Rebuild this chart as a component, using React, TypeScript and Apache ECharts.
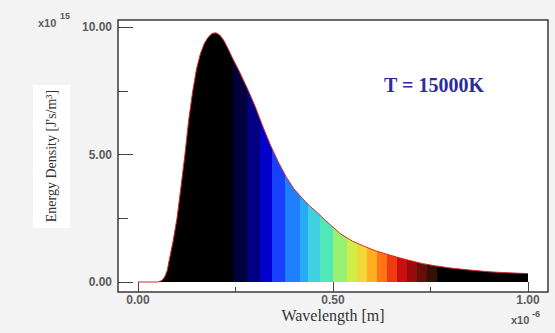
import React, { useEffect, useRef } from "react";
import * as echarts from "echarts";

// Wavelength in units of 1e-6 m, energy density in units of 1e15
const wavelengths = [
  0, 0.02, 0.04, 0.05, 0.06, 0.065, 0.07, 0.075, 0.08, 0.09, 0.1, 0.11, 0.12, 0.13, 0.14, 0.15,
  0.16, 0.17, 0.18, 0.19, 0.2, 0.21, 0.22, 0.23, 0.24, 0.26, 0.28, 0.3, 0.32, 0.34, 0.36, 0.38,
  0.4, 0.42, 0.44, 0.46, 0.48, 0.5, 0.52, 0.55, 0.58, 0.61, 0.64, 0.67, 0.7, 0.73, 0.76, 0.8,
  0.85, 0.9, 0.95, 1.0,
];
const energy = [
  0, 0, 0, 0, 0.05, 0.12, 0.25, 0.45, 0.85, 1.6, 2.5, 3.7, 4.95, 6.35, 7.45, 8.35,
  8.95, 9.35, 9.6, 9.75, 9.77, 9.68, 9.47, 9.18, 8.85, 8.25, 7.6, 6.9, 6.1, 5.35, 4.7, 4.12,
  3.65, 3.3, 2.98, 2.72, 2.42, 2.15, 1.88, 1.6, 1.4, 1.22, 1.08, 0.95, 0.83, 0.72, 0.64, 0.55,
  0.47, 0.4, 0.36, 0.33,
];

// Spectrum bands (start wavelength, 1e-6 m) and their fill colours
const bandStarts = [
  0, 0.244, 0.279, 0.313, 0.343, 0.377, 0.415, 0.435, 0.467, 0.5, 0.535, 0.562, 0.586, 0.612,
  0.638, 0.663, 0.689, 0.715, 0.74, 0.766,
];
const bandColors = [
  "#000000", "#00003a", "#000080", "#0000cc", "#1840ff", "#1e80ff", "#2aa8f8", "#40d0e0",
  "#50e8b8", "#98f070", "#d0ee48", "#f2d838", "#ffae20", "#ff7414", "#f03a10", "#c81010",
  "#980c0c", "#641008", "#341008", "#000000",
];

const xMajorTicks = [0, 0.5, 1];
const xMinorTicks = [0.25, 0.75];
const yMajorTicks = [0, 5, 10];
const yMinorTicks = [2.5, 7.5];
const xMin = 0;
const xMax = 1;
const yMin = 0;
const yMax = 10;

const titleText = "T = 15000K";
const xAxisTitle = "Wavelength [m]";
const yAxisTitle = "Energy Density [J's/m\u00b3]";
const xExponent = "-6";
const yExponent = "15";

const SANS = "'Liberation Sans', Arial, sans-serif";
const SERIF = "'Liberation Serif', 'Times New Roman', serif";

// layout (pixels)
const frameL = 118, frameR = 548, frameT = 20, frameB = 292;
const dataL = 138, dataR = 528, dataT = 27, dataB = 282;

export default function App() {
  const ref = useRef<HTMLDivElement>(null);

  useEffect(() => {
    document.body.style.margin = "0";
    if (!ref.current) return;
    const chart = echarts.init(ref.current, undefined, { renderer: "svg" });

    const pxPerX = (dataR - dataL) / (xMax - xMin);
    const pxPerY = (dataB - dataT) / (yMax - yMin);
    const xLo = xMin - (dataL - frameL) / pxPerX;
    const xHi = xMax + (frameR - dataR) / pxPerX;
    const yLo = yMin - (frameB - dataB) / pxPerY;
    const yHi = yMax + (dataT - frameT) / pxPerY;

    const stops: { offset: number; color: string }[] = [];
    bandStarts.forEach((s, i) => {
      const e = i < bandStarts.length - 1 ? bandStarts[i + 1] : xMax;
      stops.push({ offset: (s - xMin) / (xMax - xMin), color: bandColors[i] });
      stops.push({ offset: (e - xMin) / (xMax - xMin), color: bandColors[i] });
    });

    const labelStyle = { fontFamily: SANS, fontSize: 12, fontWeight: "bold", color: "#5c5c5c" };
    const tickLine = { color: "#444", width: 1 };
    const fmt = (v: number) => v.toFixed(2);
    const noLine = { show: false, onZero: false };

    const txt = (x: number, y: number, text: string, extra: any, align = "center") => ({
      type: "text",
      z: 60,
      x,
      y,
      silent: true,
      style: {
        text,
        align,
        verticalAlign: "middle",
        textAlign: align,
        textVerticalAlign: "middle",
        ...extra,
      },
    });
    const expStyle = { fontFamily: SANS, fontWeight: "bold", fill: "#5c5c5c" };

    chart.setOption({
      animation: false,
      backgroundColor: "#f3f3f3",
      grid: {
        left: frameL,
        right: 555 - frameR,
        top: frameT,
        bottom: 333 - frameB,
        outerBoundsMode: "none",
        show: true,
        backgroundColor: "#ffffff",
        borderColor: "#3a3a3a",
        borderWidth: 1.5,
      },
      xAxis: [
        {
          type: "value",
          position: "bottom",
          min: xLo,
          max: xHi,
          axisLine: noLine,
          axisTick: { show: true, inside: true, length: 10, customValues: xMajorTicks, lineStyle: tickLine },
          axisLabel: { ...labelStyle, margin: 2, customValues: xMajorTicks, formatter: fmt },
          splitLine: { show: false },
        },
        {
          type: "value",
          position: "bottom",
          min: xLo,
          max: xHi,
          axisLine: noLine,
          axisTick: { show: true, inside: true, length: 5, customValues: xMinorTicks, lineStyle: tickLine },
          axisLabel: { show: false },
          splitLine: { show: false },
        },
      ],
      yAxis: [
        {
          type: "value",
          position: "left",
          min: yLo,
          max: yHi,
          axisLine: noLine,
          axisTick: { show: true, inside: true, length: 15, customValues: yMajorTicks, lineStyle: tickLine },
          axisLabel: { ...labelStyle, margin: 6, customValues: yMajorTicks, formatter: fmt },
          splitLine: { show: false },
        },
        {
          type: "value",
          position: "left",
          min: yLo,
          max: yHi,
          axisLine: noLine,
          axisTick: { show: true, inside: true, length: 10, customValues: yMinorTicks, lineStyle: tickLine },
          axisLabel: { show: false },
          splitLine: { show: false },
        },
      ],
      series: [
        {
          type: "line",
          xAxisIndex: 0,
          yAxisIndex: 0,
          data: wavelengths.map((w, i) => [w, energy[i]]),
          symbol: "none",
          smooth: false,
          lineStyle: { color: "#d42828", width: 1 },
          areaStyle: {
            opacity: 1,
            origin: 0,
            color: new echarts.graphic.LinearGradient(0, 0, 1, 0, stops),
          },
          z: 3,
        },
      ],
      graphic: [
        {
          type: "rect",
          z: 1,
          silent: true,
          shape: { x: 33, y: 85, width: 37, height: 143 },
          style: { fill: "#ffffff" },
        },
        {
          ...txt(51, 156, yAxisTitle, { fontFamily: SERIF, fontSize: 14, fill: "#333" }),
          rotation: Math.PI / 2,
        },
        txt(333, 315, xAxisTitle, { fontFamily: SERIF, fontSize: 16, fill: "#333" }),
        txt(434, 85, titleText, { fontFamily: SERIF, fontSize: 20, fontWeight: "bold", fill: "#2c2c9c" }),
        txt(38, 23, "x10", { ...expStyle, fontSize: 11 }, "left"),
        txt(60, 16, yExponent, { ...expStyle, fontSize: 9 }, "left"),
        txt(511, 320, "x10", { ...expStyle, fontSize: 11 }, "left"),
        txt(532, 314, xExponent, { ...expStyle, fontSize: 9 }, "left"),
      ],
    });

    return () => {
      chart.dispose();
    };
  }, []);

  return <div ref={ref} style={{ width: 555, height: 333 }} />;
}
